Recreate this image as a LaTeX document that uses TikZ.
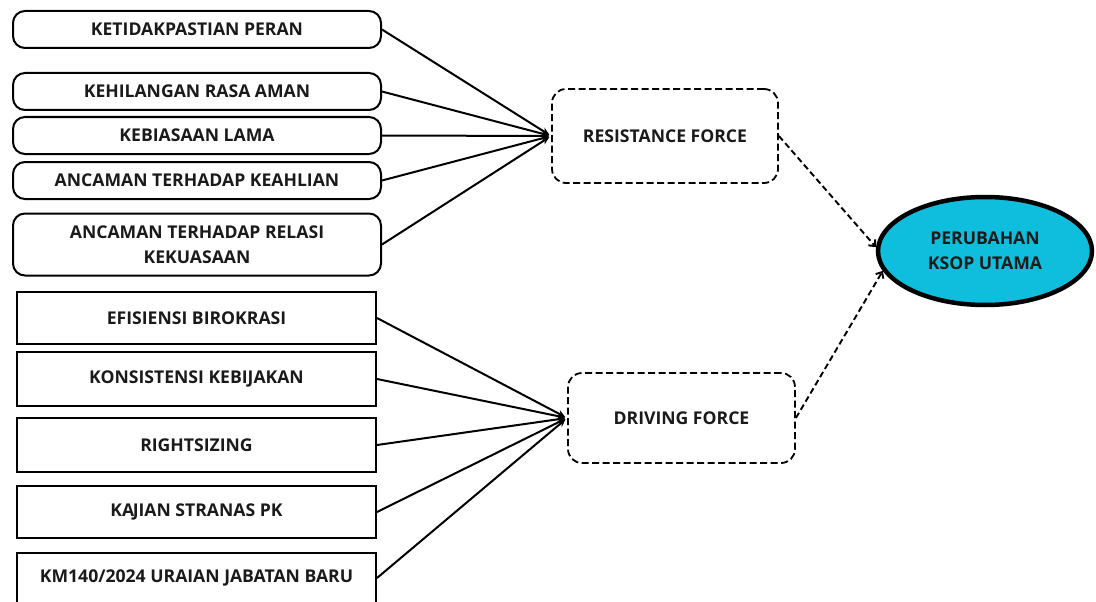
\documentclass[tikz,border=0pt]{standalone}
\usepackage{fontspec}
\setmainfont{Open Sans}
\usetikzlibrary{arrows.meta,shapes.geometric}
\definecolor{ksopcyan}{HTML}{0FBEDD}
\definecolor{txt}{HTML}{1A1A1A}
\begin{document}
\begin{tikzpicture}[x=1pt,y=-1pt,
  every node/.style={font=\fontsize{17.6}{25.5}\selectfont\bfseries, text=txt, align=center, inner sep=0pt},
  rbox/.style={draw, line width=2pt, rounded corners=12pt, minimum width=368pt},
  sbox/.style={draw, line width=2pt, minimum width=359pt},
  dbox/.style={draw, dash pattern=on 7pt off 3.5pt, line width=1.8pt, rounded corners=14pt},
  conn/.style={line width=2pt, -{Stealth[length=8pt,width=7pt]}, shorten >=2pt},
  dconn/.style={line width=1.9pt, dash pattern=on 6pt off 3.5pt, -{Straight Barb[length=5pt,width=9pt]}}
]
\useasboundingbox (0,0) rectangle (1096,602);
% resistance factors
\node[rbox, minimum height=37pt] (r1) at (197,29.5) {KETIDAKPASTIAN PERAN};
\node[rbox, minimum height=37pt] (r2) at (197,91.5) {KEHILANGAN RASA AMAN};
\node[rbox, minimum height=37pt] (r3) at (197,135.5) {KEBIASAAN LAMA};
\node[rbox, minimum height=37pt] (r4) at (197,180.5) {ANCAMAN TERHADAP KEAHLIAN};
\node[rbox, minimum height=62pt] (r5) at (197,244.5) {ANCAMAN TERHADAP RELASI\\KEKUASAAN};
% driving factors
\node[sbox, minimum height=52pt] (d1) at (196.5,318) {EFISIENSI BIROKRASI};
\node[sbox, minimum height=54pt] (d2) at (196.5,379) {KONSISTENSI KEBIJAKAN};
\node[sbox, minimum height=54pt] (d3) at (196.5,445) {RIGHTSIZING};
\node[sbox, minimum height=52pt] (d4) at (196.5,512) {KA\kern-1.5pt JIAN STRANAS PK};
\node[sbox, minimum height=54pt, anchor=north] (d5) at (196.5,552) {};
\node (d5t) at (196.5,578) {KM140/2024 URAIAN JABATAN BARU};
% forces
\node[dbox, minimum width=226pt, minimum height=94pt] (res) at (665,136) {RESISTANCE FORCE};
\node[dbox, minimum width=227pt, minimum height=90pt] (drv) at (681.5,418) {DRIVING FORCE};
% outcome
\node[ellipse, draw, line width=4.5pt, fill=ksopcyan, minimum width=214pt, minimum height=108pt] (ksop) at (985,251) {PERUBAHAN\\KSOP UTAMA};
% connectors
\foreach \n in {r1,r2,r3,r4,r5} \draw[conn] (\n.east) -- (res.west);
\foreach \n in {d1,d2,d3,d4} \draw[conn] (\n.east) -- (drv.west);
\draw[conn] (d5.east |- d5t) -- (drv.west);
\draw[dconn] (res.east) -- (ksop.178);
\draw[dconn] (drv.east) -- (ksop.191);
\end{tikzpicture}
\end{document}
